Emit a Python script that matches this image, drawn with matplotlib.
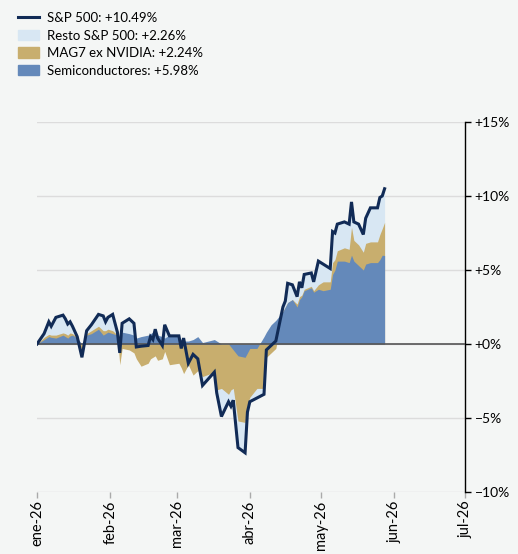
import numpy as np
import pandas as pd
import matplotlib
matplotlib.use('Agg')
import matplotlib.pyplot as plt
from matplotlib.lines import Line2D
from matplotlib.patches import Patch

plt.rcParams['font.family'] = ['Lato', 'DejaVu Sans']
plt.rcParams['axes.unicode_minus'] = False

# fechas (aprox.)
fechas = [
    '2026-01-01', '2026-01-04', '2026-01-06', '2026-01-07', '2026-01-09', '2026-01-12',
    '2026-01-13', '2026-01-14', '2026-01-15', '2026-01-16', '2026-01-18', '2026-01-20',
    '2026-01-22', '2026-01-24', '2026-01-27', '2026-01-29', '2026-01-30', '2026-01-31',
    '2026-02-02', '2026-02-04', '2026-02-05', '2026-02-06', '2026-02-09', '2026-02-11',
    '2026-02-12', '2026-02-14', '2026-02-17', '2026-02-18', '2026-02-19', '2026-02-20',
    '2026-02-21', '2026-02-23', '2026-02-24', '2026-02-26', '2026-03-02', '2026-03-03',
    '2026-03-04', '2026-03-06', '2026-03-08', '2026-03-10', '2026-03-12', '2026-03-17',
    '2026-03-18', '2026-03-20', '2026-03-23', '2026-03-24', '2026-03-25', '2026-03-27',
    '2026-03-30', '2026-03-31', '2026-04-01', '2026-04-04', '2026-04-07', '2026-04-08',
    '2026-04-10', '2026-04-12', '2026-04-15', '2026-04-16', '2026-04-17', '2026-04-19',
    '2026-04-21', '2026-04-22', '2026-04-23', '2026-04-24', '2026-04-27', '2026-04-28',
    '2026-04-30', '2026-05-02', '2026-05-05', '2026-05-06', '2026-05-07', '2026-05-08',
    '2026-05-11', '2026-05-13', '2026-05-14', '2026-05-15', '2026-05-17', '2026-05-19',
    '2026-05-20', '2026-05-22', '2026-05-25', '2026-05-26', '2026-05-27', '2026-05-28',
]

# S&P 500 acumulado (%)
sp500 = [
    0.0, 0.7, 1.5, 1.2, 1.8, 1.95,
    1.7, 1.35, 1.5, 1.2, 0.5, -0.9,
    0.9, 1.3, 2.0, 1.9, 1.5, 1.8,
    2.0, 0.8, -0.6, 1.4, 1.7, 1.4,
    -0.2, -0.15, -0.1, 0.5, 0.3, 1.0,
    0.4, -0.1, 1.3, 0.55, 0.55, -0.3,
    0.4, -1.3, -0.7, -1.0, -2.8, -1.9,
    -3.3, -4.9, -3.9, -4.2, -3.8, -7.0,
    -7.35, -4.6, -3.9, -3.65, -3.4, -0.4,
    -0.1, 0.2, 2.5, 2.9, 4.1, 4.0,
    3.2, 4.2, 3.8, 4.7, 4.8, 4.2,
    5.6, 5.4, 5.1, 7.6, 7.5, 8.1,
    8.25, 8.1, 9.6, 8.25, 8.1, 7.4,
    8.5, 9.2, 9.2, 9.9, 10.0, 10.49,
]

# contribucion semiconductores (%)
semis = [
    0.0, 0.3, 0.5, 0.45, 0.4, 0.6,
    0.5, 0.4, 0.55, 0.6, 0.4, 0.0,
    0.6, 0.7, 1.0, 0.6, 0.7, 0.8,
    0.7, 0.6, 0.0, 0.8, 0.7, 0.6,
    0.4, 0.5, 0.6, 0.7, 0.8, 0.7,
    0.6, 0.5, 0.4, 0.6, 0.5, 0.3,
    0.2, 0.2, 0.3, 0.5, 0.1, 0.3,
    0.2, 0.0, 0.0, -0.2, -0.4, -0.8,
    -0.9, -0.6, -0.3, -0.3, 0.5, 0.8,
    1.3, 1.6, 2.2, 2.5, 2.8, 3.0,
    2.5, 3.0, 3.2, 3.6, 3.8, 3.5,
    3.7, 3.6, 3.7, 4.7, 5.0, 5.6,
    5.6, 5.5, 6.0, 5.6, 5.3, 5.0,
    5.4, 5.5, 5.5, 5.7, 6.0, 5.98,
]

# contribucion MAG7 ex NVIDIA (%)
mag7 = [
    0.0, 0.15, 0.15, 0.15, 0.2, 0.15,
    0.2, 0.2, 0.2, 0.1, 0.05, -0.8,
    0.1, 0.2, 0.2, 0.3, 0.2, 0.2,
    0.2, 0.0, -1.4, -1.1, -1.1, -1.2,
    -1.4, -2.0, -1.9, -1.7, -1.7, -1.5,
    -1.7, -1.5, -0.9, -2.0, -1.8, -1.9,
    -2.2, -1.6, -2.4, -2.3, -2.3, -2.2,
    -3.3, -3.0, -3.4, -2.9, -2.6, -4.4,
    -4.4, -3.5, -3.3, -2.7, -3.5, -1.7,
    -1.9, -1.9, 0.0, 0.0, 0.0, 0.0,
    0.2, 0.2, 0.1, 0.1, 0.1, 0.1,
    0.3, 0.6, 0.5, 0.8, 0.7, 0.7,
    0.9, 0.9, 1.9, 1.4, 1.4, 1.2,
    1.4, 1.4, 1.4, 1.7, 1.8, 2.24,
]

meses = ['2026-01-01', '2026-02-01', '2026-03-01', '2026-04-01',
         '2026-05-01', '2026-06-01', '2026-07-01']
etiquetas_meses = ['ene-26', 'feb-26', 'mar-26', 'abr-26', 'may-26', 'jun-26', 'jul-26']

leyenda = ['S&P 500: +10.49%', 'Resto S&P 500: +2.26%',
           'MAG7 ex NVIDIA: +2.24%', 'Semiconductores: +5.98%']

# colores
c_fondo = '#f4f6f5'
c_linea = '#112b56'
c_resto = '#d8e7f3'
c_mag7 = '#c8ae6e'
c_semis = '#6489ba'

x = pd.to_datetime(fechas)
sp = np.array(sp500)
s = np.array(semis)
sm = s + np.array(mag7)

fig = plt.figure(figsize=(5.18, 5.54), dpi=100, facecolor=c_fondo)
ax = fig.add_axes([37 / 518, 1 - 492 / 554, 428 / 518, 370 / 554])
ax.set_facecolor(c_fondo)

# areas superpuestas desde cero
ax.fill_between(x, 0, sp, color=c_resto, lw=0, zorder=2)
ax.fill_between(x, 0, sm, color=c_mag7, lw=0, zorder=3)
ax.fill_between(x, 0, s, color=c_semis, lw=0, zorder=4)
ax.axhline(0, color='#555555', lw=1.2, zorder=5)
ax.plot(x, sp, color=c_linea, lw=2.2, zorder=6, solid_joinstyle='miter')

ax.set_xlim(pd.Timestamp('2026-01-01'), pd.Timestamp('2026-07-01'))
ax.set_ylim(-10, 15)

ax.set_yticks([-10, -5, 0, 5, 10, 15])
ax.set_yticklabels([f'{v:+d}%'.replace('-', '\u2212') for v in [-10, -5, 0, 5, 10, 15]])
ax.yaxis.tick_right()
ax.yaxis.grid(True, color='#dcdcdc', lw=1, zorder=1)
ax.tick_params(axis='y', length=4, width=1, color='black', labelsize=10, pad=3)

ax.set_xticks(pd.to_datetime(meses))
ax.set_xticklabels(etiquetas_meses, rotation=90, va='top', ha='center')
ax.tick_params(axis='x', length=4, width=1, color='#aaaaaa', labelsize=10.5, pad=2)

for lado in ['left', 'top', 'bottom']:
    ax.spines[lado].set_visible(False)
ax.spines['right'].set_color('black')
ax.spines['right'].set_linewidth(1)

handles = [Line2D([0], [0], color=c_linea, lw=2.2),
           Patch(color=c_resto), Patch(color=c_mag7), Patch(color=c_semis)]
fig.legend(handles, leyenda, loc='upper left', bbox_to_anchor=(18 / 518, 1 - 12 / 554),
           frameon=False, fontsize=9.5, handlelength=1.6, handleheight=0.8,
           handletextpad=0.6, labelspacing=0.42, borderpad=0, borderaxespad=0)

plt.savefig('out.png', dpi=100, facecolor=c_fondo)
